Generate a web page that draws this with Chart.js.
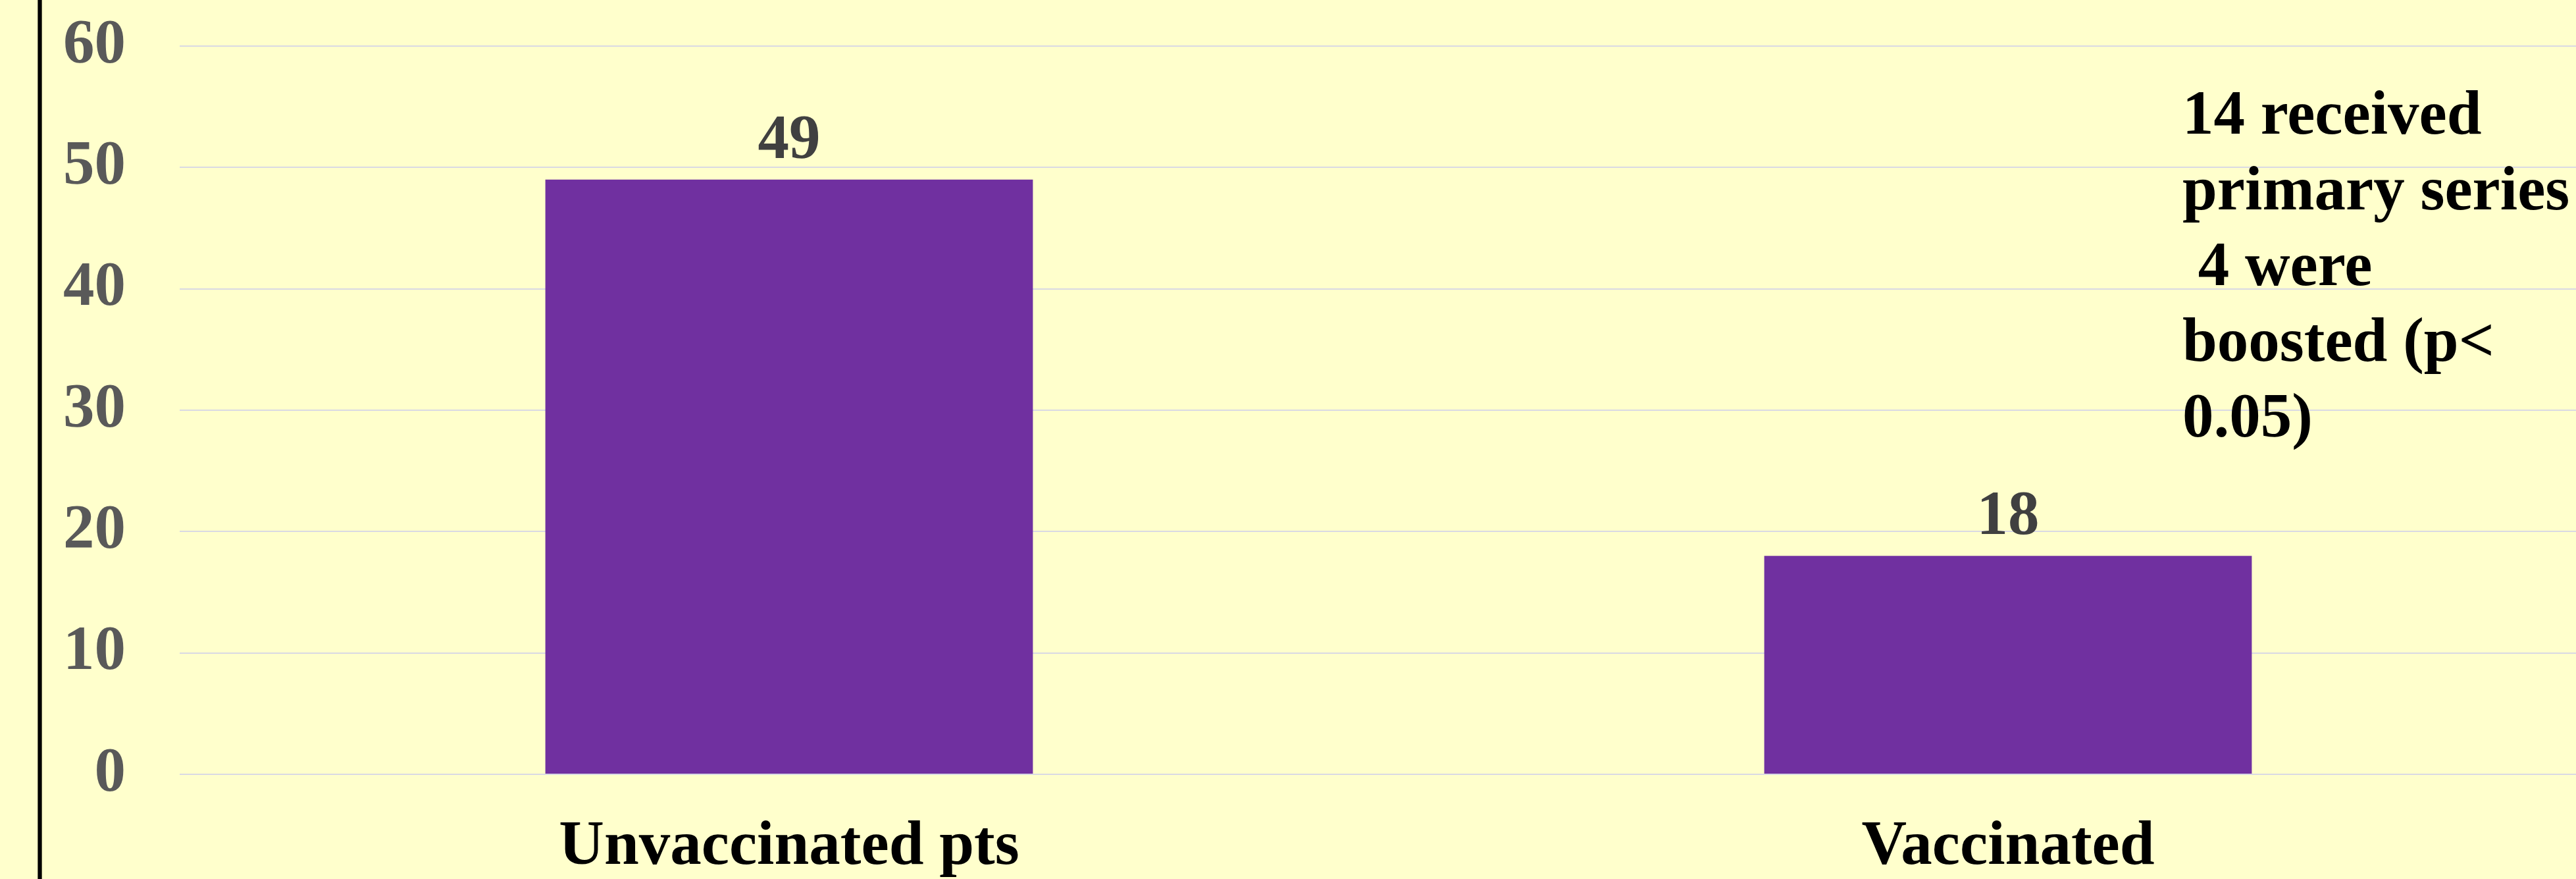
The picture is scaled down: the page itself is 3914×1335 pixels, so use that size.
<!DOCTYPE html>
<html>
<head>
<meta charset="utf-8">
<script src="https://cdn.jsdelivr.net/npm/chart.js@4/dist/chart.umd.min.js"></script>
<style>
    html, body { margin: 0; padding: 0; overflow: hidden; background: #FFFFCC; }
    #wrap { width: 3914px; height: 1335px; overflow: hidden; position: relative; }
    canvas { display: block; }
</style>
</head>
<body>
<div id="wrap"><canvas id="myChart" width="4000" height="1335"></canvas></div>
<script>
    "use strict";

    var categories = ["Unvaccinated pts", "Vaccinated"];
    var patientCounts = [49, 18];
    var yMin = 0;
    var yMax = 60;
    var yStep = 10;
    var noteLines = ["14 received", "primary series", " 4 were", "boosted (p<", "0.05)"];

    var serif = "'Liberation Serif', 'Times New Roman', serif";

    // bar value labels above each bar
    var valueLabels = {
        id: "valueLabels",
        afterDatasetsDraw: function (chart) {
            var c = chart.ctx;
            var meta = chart.getDatasetMeta(0);
            c.save();
            c.font = "bold 95px " + serif;
            c.fillStyle = "#404040";
            c.textAlign = "center";
            c.textBaseline = "alphabetic";
            meta.data.forEach(function (bar, i) {
                c.fillText(String(patientCounts[i]), bar.x, bar.y - 33);
            });
            c.restore();
        }
    };

    // side note text and the left border line of the slide
    var extras = {
        id: "extras",
        afterDraw: function (chart) {
            var c = chart.ctx;
            c.save();
            c.fillStyle = "#5c5c40";
            c.fillRect(57, 0, 7, chart.height);
            c.fillStyle = "#000";
            c.fillRect(58, 0, 5, chart.height);

            c.font = "bold 95px " + serif;
            c.fillStyle = "#000";
            c.textAlign = "left";
            c.textBaseline = "alphabetic";
            noteLines.forEach(function (line, i) {
                c.fillText(line, 3316, 203 + i * 115);
            });
            c.restore();
        }
    };

    var ctx = document.getElementById("myChart");

    var myChart = new Chart(ctx, {
        type: "bar",
        data: {
            labels: categories,
            datasets: [
                {
                    data: patientCounts,
                    backgroundColor: "#7030A0",
                    borderWidth: 0,
                    categoryPercentage: 1,
                    barPercentage: 0.4
                }
            ]
        },
        options: {
            responsive: false,
            animation: false,
            layout: {
                padding: { left: 0, right: 23, top: 70, bottom: 0 }
            },
            scales: {
                y: {
                    min: yMin,
                    max: yMax,
                    afterFit: function (scale) {
                        scale.width = 273;
                        scale.paddingTop = 0;
                        scale.paddingBottom = 0;
                    },
                    ticks: {
                        stepSize: yStep,
                        padding: 82,
                        color: "#595959",
                        font: { family: serif, size: 95, weight: "bold" }
                    },
                    grid: {
                        color: "#D9D9E3",
                        lineWidth: 2,
                        drawTicks: false
                    },
                    border: { display: false }
                },
                x: {
                    afterFit: function (scale) {
                        scale.height = 159;
                        scale.paddingLeft = 0;
                        scale.paddingRight = 0;
                    },
                    ticks: {
                        padding: 54,
                        color: "#000",
                        maxRotation: 0,
                        font: { family: serif, size: 95, weight: "bold" }
                    },
                    grid: { display: false, drawTicks: false },
                    border: { display: false }
                }
            },
            plugins: {
                legend: { display: false },
                tooltip: { enabled: false }
            }
        },
        plugins: [valueLabels, extras]
    });
</script>
</body>
</html>
